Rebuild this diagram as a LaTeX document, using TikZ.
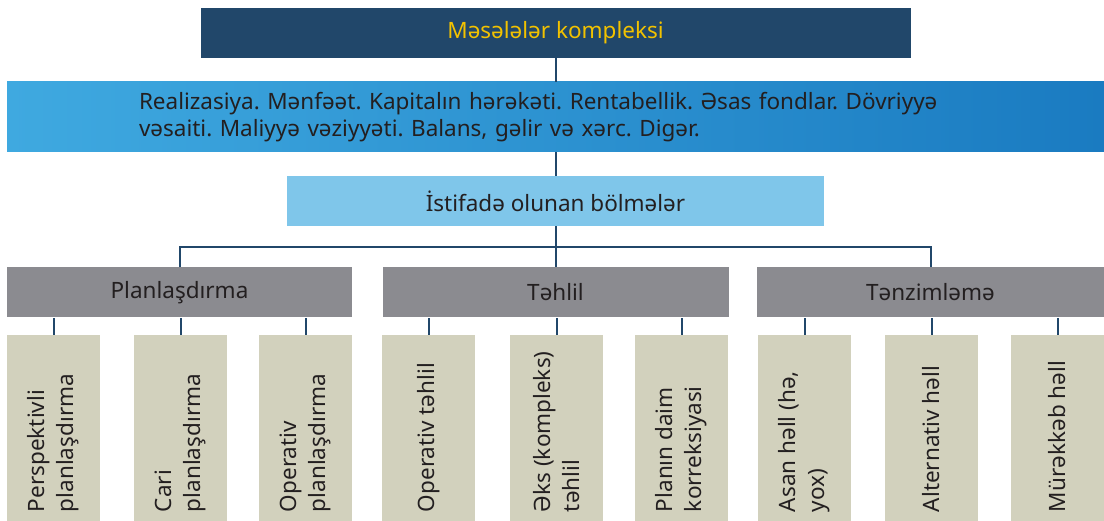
\documentclass[tikz,border=0pt]{standalone}
\usepackage{fontspec}
\setmainfont{Noto Sans}
\usepackage{graphicx}
\frenchspacing
\definecolor{navy}{HTML}{21476A}
\definecolor{gold}{HTML}{F2C200}
\definecolor{ink}{HTML}{231F20}
\definecolor{bandleft}{HTML}{3FA9E0}
\definecolor{bandright}{HTML}{1A7BC1}
\definecolor{skyblue}{HTML}{7FC6EA}
\definecolor{slate}{HTML}{8B8B90}
\definecolor{sand}{HTML}{D2D1BD}
\newcommand\leaftext[1]{\rotatebox{90}{\parbox{168pt}{\raggedright\fontsize{22.5}{29}\selectfont #1}}}
\tikzset{
	headstyle/.style={rectangle, fill=navy, text=gold, inner sep=0pt, font=\fontsize{22.5}{27}\selectfont},
	bandstyle/.style={rectangle, left color=bandleft, right color=bandright, draw=none, text=ink, font=\fontsize{22.5}{27}\selectfont},
	partstyle/.style={rectangle, fill=skyblue, text=ink, inner sep=0pt, font=\fontsize{22.5}{27}\selectfont},
	groupstyle/.style={rectangle, fill=slate, text=ink, inner sep=0pt, minimum height=50, font=\fontsize{22.5}{27}\selectfont},
	leafstyle/.style={rectangle, fill=sand, text=ink, inner sep=0pt, minimum width=93, minimum height=186},
	link/.style={draw=navy, line width=2pt}
}

\begin{document}
\begin{tikzpicture}[x=1pt, y=-1pt]

\def\groupy{292.5}
\def\leafy{428}

\useasboundingbox[fill=white] (0, 0) rectangle (1104, 521);

\node[headstyle, minimum width=710, minimum height=50] (top) at (555.5, 33) {Məsələlər kompleksi};
\node[bandstyle, minimum width=1097, minimum height=70, inner xsep=132, inner ysep=0, text width=833, align=left] (band) at (555.5, 117)
	{Realizasiya. Mənfəət. Kapitalın hərəkəti. Rentabellik. Əsas fondlar. Dövriyyə\\vəsaiti. Maliyyə vəziyyəti. Balans, gəlir və xərc. Digər.};
\node[partstyle, minimum width=537, minimum height=50] (bolme) at (555.5, 201) {İstifadə olunan bölmələr};

\node[groupstyle, minimum width=345] (plan)   at (179.5, \groupy) {Planlaşdırma};
\node[groupstyle, minimum width=346] (tahlil) at (555.5, \groupy) {Təhlil};
\node[groupstyle, minimum width=347] (tanzim) at (930.5, \groupy) {Tənzimləmə};

\node[leafstyle] (p1) at (53.5, \leafy)   {\leaftext{Perspektivli\\planlaşdırma}};
\node[leafstyle] (p2) at (180.5, \leafy)  {\leaftext{Cari\\planlaşdırma}};
\node[leafstyle] (p3) at (305.5, \leafy)  {\leaftext{Operativ\\planlaşdırma}};
\node[leafstyle] (t1) at (428.5, \leafy)  {\leaftext{Operativ təhlil}};
\node[leafstyle] (t2) at (556.5, \leafy)  {\leaftext{Əks (kompleks)\\təhlil}};
\node[leafstyle] (t3) at (681.5, \leafy)  {\leaftext{Planın daim\\korreksiyasi}};
\node[leafstyle] (z1) at (804.5, \leafy)  {\leaftext{Asan həll (hə,\\yox)}};
\node[leafstyle] (z2) at (931.5, \leafy)  {\leaftext{Alternativ həll}};
\node[leafstyle] (z3) at (1057.5, \leafy) {\leaftext{Mürəkkəb həll}};

\coordinate (bus) at (555.5, 247);

\draw[link] (top.south) -- (band.north);
\draw[link] (band.south) -- (bolme.north);
\draw[link] (bolme.south) -- (tahlil.north);
\draw[link] (plan.north) |- (bus) -| (tanzim.north);

\draw[link] (p1.north) -- (p1.north |- plan.south);
\draw[link] (p2.north) -- (p2.north |- plan.south);
\draw[link] (p3.north) -- (p3.north |- plan.south);
\draw[link] (t1.north) -- (t1.north |- tahlil.south);
\draw[link] (t2.north) -- (t2.north |- tahlil.south);
\draw[link] (t3.north) -- (t3.north |- tahlil.south);
\draw[link] (z1.north) -- (z1.north |- tanzim.south);
\draw[link] (z2.north) -- (z2.north |- tanzim.south);
\draw[link] (z3.north) -- (z3.north |- tanzim.south);
\end{tikzpicture}
\end{document}
